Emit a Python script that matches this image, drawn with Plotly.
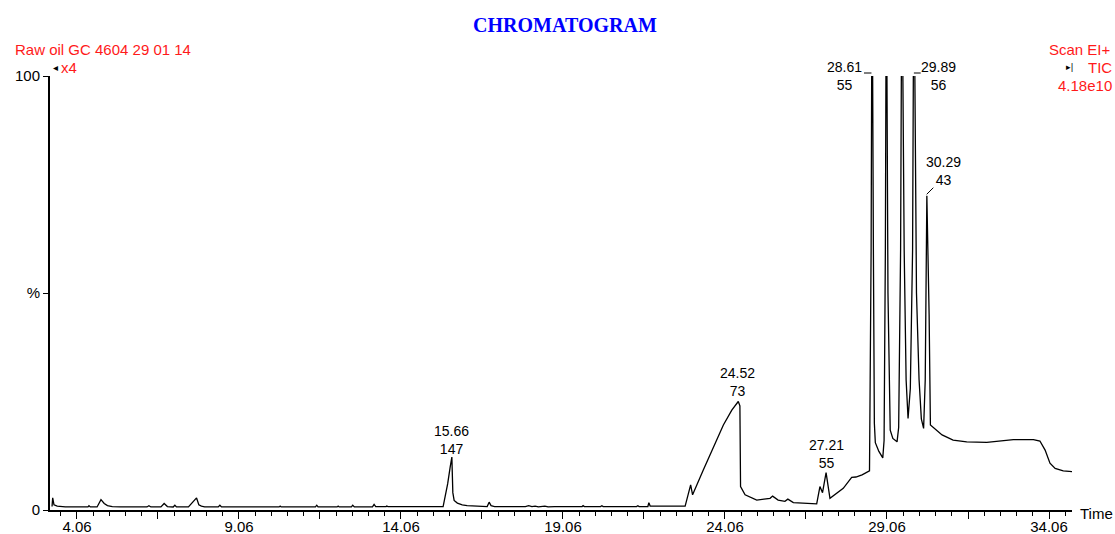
import plotly.graph_objects as go

# ---------------- data ----------------
time_min = [
    3.29, 3.31, 3.35, 3.45, 3.70, 4.00, 4.40, 4.43, 4.47,
    4.68, 4.80, 4.90, 5.00, 5.15, 5.40,
    6.22, 6.28, 6.34, 6.65, 6.75, 6.85, 7.03, 7.08, 7.13,
    7.50, 7.75, 7.82, 7.90, 8.00, 8.42, 8.47, 8.52,
    10.30, 10.33, 10.36, 11.42, 11.46, 11.50, 12.09, 12.12, 12.15,
    12.53, 12.57, 12.62, 13.18, 13.23, 13.28, 13.60, 13.62, 13.66,
    15.36, 15.42, 15.50, 15.58, 15.63, 15.66, 15.70, 15.80, 15.95, 16.10, 16.30,
    16.72, 16.78, 16.84, 16.95,
    17.90, 18.00, 18.10, 18.20, 18.30, 18.50, 18.60, 18.80, 19.10,
    19.65, 19.68, 19.72, 20.22, 20.26, 20.30, 21.33, 21.37, 21.41,
    21.68, 21.71, 21.75, 22.83,
    23.00, 23.06, 23.39, 23.70, 24.01, 24.27, 24.47, 24.52, 24.54,
    24.68, 25.04, 25.45, 25.53, 25.70, 25.91, 26.00, 26.17, 26.89,
    26.99, 27.07, 27.18, 27.30, 27.71, 27.97, 28.10, 28.29, 28.49,
    28.52, 28.57, 28.60, 28.64, 28.67, 28.70, 28.81, 28.93, 28.97, 29.01,
    29.04, 29.09, 29.16, 29.24, 29.37, 29.42, 29.48,
    29.52, 29.59, 29.65, 29.71, 29.78, 29.85,
    29.89, 29.97, 30.05, 30.12, 30.19, 30.24,
    30.29, 30.36, 30.40, 30.45, 30.76, 31.10, 31.52, 32.14,
    32.55, 32.96, 33.58, 33.78, 33.94, 34.09, 34.25, 34.50, 34.81,
]
abundance_pct = [
    0.8, 2.8, 1.2, 0.9, 0.7, 0.7, 0.7, 1.0, 0.7,
    0.7, 2.4, 1.5, 1.0, 0.8, 0.7,
    0.7, 1.0, 0.7, 0.7, 1.5, 0.8, 0.7, 1.1, 0.7,
    0.7, 2.8, 1.2, 0.9, 0.7, 0.7, 1.1, 0.7,
    0.7, 0.9, 0.7, 0.7, 1.1, 0.7, 0.7, 0.9, 0.7,
    0.7, 1.1, 0.7, 0.7, 1.3, 0.8, 0.8, 0.9, 0.8,
    0.8, 3.0, 6.0, 10.0, 12.2, 4.0, 2.2, 1.6, 1.2, 1.0, 0.9,
    0.8, 1.8, 1.0, 0.8,
    0.8, 1.0, 0.8, 0.9, 0.7, 0.9, 0.7, 0.8, 0.8,
    0.8, 1.0, 0.8, 0.8, 1.0, 0.8, 0.8, 1.0, 0.8,
    0.8, 1.7, 0.9, 0.9,
    5.8, 3.5, 9.2, 14.6, 19.6, 23.0, 25.0, 24.0, 5.4,
    3.5, 2.3, 2.7, 3.2, 2.3, 2.0, 2.5, 1.7, 1.4,
    5.4, 4.0, 8.6, 2.7, 5.0, 7.5, 7.6, 8.1, 8.8,
    9.0, 60, 130, 60, 20, 15.5, 13.5, 12.0, 16, 60,
    130, 50, 18.4, 16.5, 15.7, 19, 60,
    130, 60, 30, 21.1, 28, 60,
    130, 50, 30, 21, 18.8, 30,
    72.4, 45, 19.6, 19.3, 17.3, 16.1, 15.7, 15.6,
    15.9, 16.2, 16.2, 15.9, 13.8, 10.8, 9.6, 9.0, 8.8,
]

peak_rt_text = ["15.66", "24.52", "27.21", "28.61", "29.89", "30.29"]
peak_mz_text = ["147", "73", "55", "55", "56", "43"]
label_x = [15.63, 24.46, 27.18, 27.74, 30.66, 30.80]      # label centre (time)
label_y = [0.162, 0.295, 0.128, 0.999, 0.999, 0.780]      # label centre (paper)

tick_major = [4.06, 6.56, 9.06, 11.56, 14.06, 16.56, 19.06, 21.56,
              24.06, 26.56, 29.06, 31.56, 34.06]
tick_major_text = ["4.06", "", "9.06", "", "14.06", "", "19.06", "",
                   "24.06", "", "29.06", "", "34.06"]
y_tick_vals = [0, 50, 100]
y_tick_text = ["0", "%", "100"]

SANS = "Liberation Sans, Arial, sans-serif"
RED = "#ff1a1a"

fig = go.Figure()
fig.add_trace(go.Scatter(
    x=time_min, y=abundance_pct, mode="lines",
    line=dict(color="black", width=1.3), hoverinfo="skip", showlegend=False,
))

annotations = []
for xt, yp, rt, mz in zip(label_x, label_y, peak_rt_text, peak_mz_text):
    annotations.append(dict(
        x=xt, y=yp, xref="x", yref="paper", text=f"{rt}<br>{mz}",
        showarrow=False, xanchor="center", yanchor="middle", align="center",
        font=dict(family=SANS, size=14, color="black"),
    ))

def pa(text, x, y, xanchor, color=RED, size=15, family=SANS):
    annotations.append(dict(
        x=x, y=y, xref="paper", yref="paper", text=text, showarrow=False,
        xanchor=xanchor, yanchor="middle", font=dict(family=family, size=size, color=color),
    ))

pa("Raw oil GC 4604 29 01 14", -0.0365, 1.060, "left")
pa("x4", 0.0088, 1.0207, "left")
pa("◂", 0.0049, 1.0207, "center", color="black", size=10, family="DejaVu Sans")
pa("Scan EI+", 1.0400, 1.060, "right")
pa("TIC", 1.0410, 1.0207, "right")
pa("▸|", 0.9985, 1.0207, "center", color="black", size=9, family="DejaVu Sans")
pa("4.18e10", 1.0410, 0.979, "right")
pa("Time", 1.0059, -0.007, "left", color="black")

shapes = [
    dict(type="line", xref="x", yref="paper", x0=28.35, x1=28.58, y0=1.0069, y1=1.0069,
         line=dict(color="black", width=1)),
    dict(type="line", xref="x", yref="paper", x0=29.89, x1=30.10, y0=1.0069, y1=1.0069,
         line=dict(color="black", width=1)),
    dict(type="line", xref="x", yref="paper", x0=30.285, x1=30.49, y0=0.7274, y1=0.7426,
         line=dict(color="black", width=1)),
]

fig.update_layout(
    template="none",
    width=1115, height=534,
    margin=dict(l=50, r=43, t=76, b=24, pad=0),
    paper_bgcolor="white", plot_bgcolor="white",
    title=dict(text="<b>CHROMATOGRAM</b>", x=0.5067, y=0.9532, xref="container",
               yref="container", xanchor="center", yanchor="middle",
               font=dict(family="Liberation Serif, Times New Roman, serif", size=20, color="#0000ff")),
    annotations=annotations, shapes=shapes,
    showlegend=False,
)
fig.update_xaxes(
    range=[3.227, 34.77], showgrid=False, zeroline=False, automargin=False,
    showline=True, linecolor="black", linewidth=2,
    tickmode="array", tickvals=tick_major, ticktext=tick_major_text,
    ticks="outside", ticklen=7, tickwidth=1, tickcolor="black",
    minor=dict(tickmode="linear", tick0=4.06, dtick=0.5, ticks="outside",
               ticklen=4, tickwidth=1, tickcolor="black", showgrid=False),
    tickfont=dict(family=SANS, size=15, color="black"),
    ticklabelstandoff=-5,
)
fig.update_yaxes(
    range=[0, 100], showgrid=False, zeroline=False, automargin=False,
    showline=True, linecolor="black", linewidth=2,
    tickmode="array", tickvals=y_tick_vals, ticktext=y_tick_text,
    ticks="outside", ticklen=5, tickwidth=1, tickcolor="black",
    tickfont=dict(family=SANS, size=15, color="black"),
)

# remove the default page margin so the figure fills the window exactly
fig.write_html(
    "out.html",
    config={"displayModeBar": False},
    post_script="document.body.style.margin='0';document.body.style.overflow='hidden';",
)
